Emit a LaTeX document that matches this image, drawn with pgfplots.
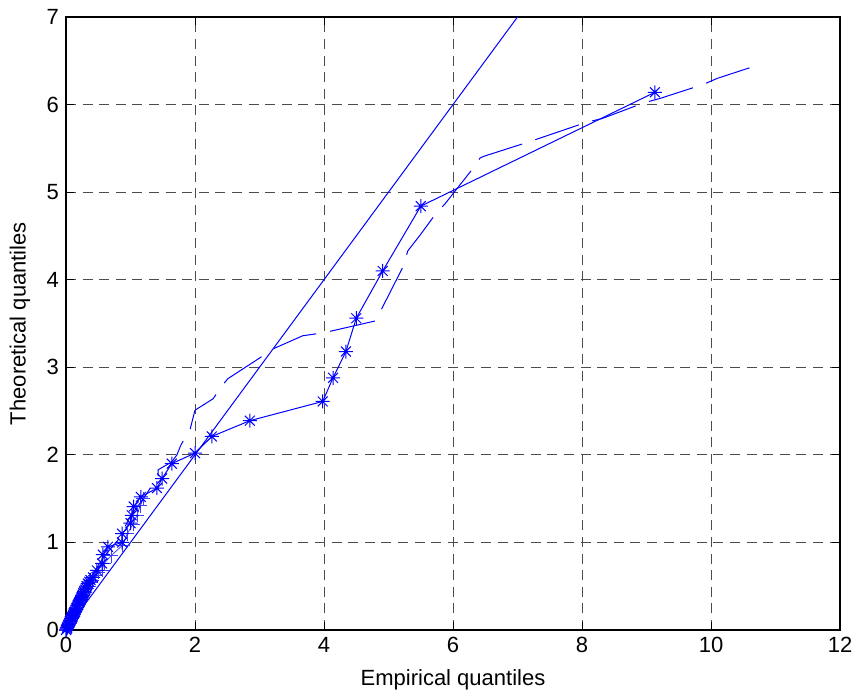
\documentclass[border=0pt]{standalone}
\usepackage{fontspec}
\setmainfont{Liberation Sans}
\usepackage{pgfplots}
\pgfplotsset{compat=1.18}
\pgfdeclareplotmark{mstar}{%
  \pgfpathmoveto{\pgfqpoint{-\pgfplotmarksize}{0pt}}\pgfpathlineto{\pgfqpoint{\pgfplotmarksize}{0pt}}%
  \pgfpathmoveto{\pgfqpoint{0pt}{-\pgfplotmarksize}}\pgfpathlineto{\pgfqpoint{0pt}{\pgfplotmarksize}}%
  \pgfpathmoveto{\pgfqpoint{-0.707\pgfplotmarksize}{-0.707\pgfplotmarksize}}\pgfpathlineto{\pgfqpoint{0.707\pgfplotmarksize}{0.707\pgfplotmarksize}}%
  \pgfpathmoveto{\pgfqpoint{-0.707\pgfplotmarksize}{0.707\pgfplotmarksize}}\pgfpathlineto{\pgfqpoint{0.707\pgfplotmarksize}{-0.707\pgfplotmarksize}}%
  \pgfusepathqstroke}
\definecolor{mblue}{RGB}{0,0,255}
\begin{document}
\begin{tikzpicture}
\useasboundingbox (-33pt,-32.5pt) rectangle (394.5pt,315pt);
\begin{axis}[
  at={(0,0)}, anchor=south west,
  scale only axis, width=387pt, height=306.5pt,
  xmin=0, xmax=12, ymin=0, ymax=7,
  xtick={0,2,...,12}, ytick={0,1,...,7},
  tick align=inside, major tick length=4pt,
  tick style={black, line width=0.4pt},
  grid=major,
  major grid style={black!70, dash pattern=on 5pt off 3.3pt, line width=0.5pt},
  axis line style={black, line width=0.8pt},
  font=\fontsize{11}{13}\selectfont,
  ticklabel style={font=\fontsize{11}{13}\selectfont},
  /pgf/number format/assume math mode=true,
  xlabel={Empirical quantiles},
  ylabel={Theoretical quantiles},
  xlabel style={at={(axis description cs:0.5,0)}, anchor=center, yshift=-25pt},
  ylabel style={at={(axis description cs:0,0.5)}, anchor=center, yshift=23pt},
  clip=true,
]
% reference line
\addplot[mblue, line width=0.5pt] coordinates {(0,0) (7,7)};
% light + series
\addplot[mblue!75, line width=0.4pt, mark=+, mark size=3.5pt] coordinates {
(0.0,0.0) (0.01,0.03) (0.03,0.04) (0.04,0.07) (0.06,0.08) (0.07,0.12) (0.09,0.13)
(0.1,0.17) (0.12,0.18) (0.14,0.22) (0.16,0.24) (0.18,0.28) (0.2,0.3) (0.22,0.34)
(0.24,0.36) (0.26,0.4) (0.29,0.43) (0.32,0.47) (0.35,0.5) (0.38,0.54) (0.41,0.57)
(0.45,0.62) (0.5,0.66) (0.56,0.68) (0.59,0.76) (0.7,0.85) (0.88,0.97) (0.95,1.1)
(1.04,1.21) (1.1,1.31) (1.15,1.42) (1.2,1.5)};
% dashed series
\addplot[mblue, line width=0.5pt, dash pattern=on 23pt off 7pt] coordinates {
(0,0) (0.05,0.08) (0.15,0.25) (0.3,0.47) (0.45,0.68) (0.6,0.85) (0.8,1.02)
(1.0,1.3) (1.2,1.5) (1.43,1.76) (1.43,1.83) (1.64,1.92) (1.72,2.0) (1.78,2.11)
(1.85,2.2) (1.92,2.28) (2.0,2.51) (2.28,2.64) (2.43,2.8) (2.51,2.87) (2.99,3.1)
(3.21,3.21) (3.67,3.36) (3.86,3.38) (4.09,3.41) (4.8,3.53) (4.91,3.69) (5.22,4.14)
(5.3,4.33) (5.49,4.51) (5.72,4.74) (5.88,4.87) (6.33,5.29) (6.42,5.39) (6.48,5.41)
(7.16,5.57) (7.4,5.63) (8.08,5.8) (8.31,5.84) (8.96,6.02) (9.21,6.07) (9.88,6.23)
(10.1,6.3) (10.64,6.43)};
% star series
\addplot[mblue, line width=0.5pt, mark=mstar, mark size=3.5pt, mark options={line width=0.5pt}] coordinates {
(0.0,0.0) (0.01,0.01) (0.015,0.02) (0.02,0.03) (0.03,0.05) (0.04,0.06) (0.05,0.08) (0.06,0.1) (0.07,0.11)
(0.08,0.13) (0.09,0.14) (0.1,0.15) (0.11,0.17) (0.12,0.19) (0.13,0.2) (0.14,0.21) (0.15,0.23) (0.16,0.25) (0.17,0.26)
(0.18,0.28) (0.19,0.29) (0.2,0.31) (0.21,0.32) (0.22,0.34) (0.23,0.35) (0.24,0.37) (0.25,0.38) (0.26,0.4) (0.27,0.42) (0.28,0.44) (0.3,0.46) (0.31,0.48) (0.32,0.5)
(0.34,0.53) (0.36,0.55) (0.38,0.57) (0.42,0.6) (0.48,0.68) (0.56,0.76) (0.57,0.86) (0.65,0.95)
(0.87,1.0) (0.87,1.1) (1.0,1.22) (1.02,1.31) (1.05,1.41) (1.16,1.52) (1.41,1.62)
(1.49,1.73) (1.64,1.9) (2.0,2.02) (2.26,2.21) (2.85,2.39) (3.98,2.61) (4.14,2.88)
(4.34,3.18) (4.5,3.56) (4.91,4.1) (5.5,4.84) (9.13,6.14)};
\end{axis}
\end{tikzpicture}
\end{document}
